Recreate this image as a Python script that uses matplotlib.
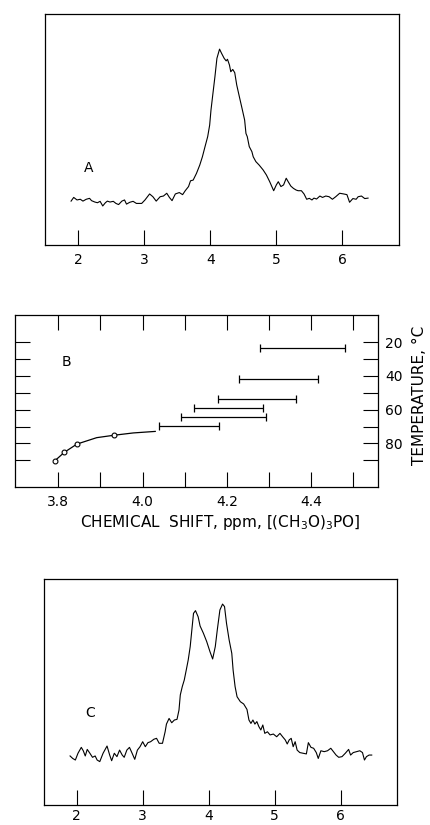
import numpy as np
import matplotlib
matplotlib.use("Agg")
import matplotlib.pyplot as plt

plt.rcParams['font.family'] = ['DejaVu Sans']

# spectrum A (ppm, arbitrary intensity)
a_ppm = [1.89, 1.93, 1.98, 2.03, 2.07, 2.12, 2.17, 2.20, 2.25, 2.29, 2.33, 2.37, 2.41, 2.44,
         2.48, 2.53, 2.57, 2.61, 2.66, 2.70, 2.73, 2.78, 2.83, 2.88, 2.96, 3.01, 3.08, 3.13,
         3.18, 3.24, 3.29, 3.34, 3.38, 3.42, 3.47, 3.53, 3.58, 3.62, 3.67, 3.70, 3.74, 3.79,
         3.84, 3.88, 3.92, 3.96, 3.99, 4.01, 4.04, 4.07, 4.10, 4.14, 4.17, 4.21, 4.24, 4.26,
         4.29, 4.31, 4.34, 4.37, 4.40, 4.44, 4.48, 4.52, 4.54, 4.56, 4.59, 4.63, 4.65, 4.69,
         4.74, 4.80, 4.85, 4.90, 4.96, 5.00, 5.03, 5.07, 5.11, 5.15, 5.18, 5.22, 5.26, 5.30,
         5.33, 5.38, 5.42, 5.46, 5.50, 5.54, 5.57, 5.61, 5.66, 5.70, 5.75, 5.80, 5.85, 5.90,
         5.96, 6.02, 6.07, 6.11, 6.16, 6.21, 6.24, 6.29, 6.34, 6.39]
a_int = [19.0, 20.6, 19.5, 19.8, 19.0, 19.8, 20.2, 19.2, 18.6, 18.3, 18.9, 16.9, 18.3, 19.0,
         18.6, 18.9, 18.0, 17.5, 19.0, 19.5, 17.7, 18.5, 18.9, 18.0, 18.0, 19.5, 22.1, 20.9,
         19.0, 20.9, 21.2, 22.4, 20.6, 19.2, 22.1, 22.7, 21.8, 23.5, 25.3, 27.8, 28.1, 31.0,
         34.6, 38.2, 42.6, 46.9, 51.9, 58.4, 65.7, 72.9, 80.8, 84.8, 83.0, 80.8, 79.7, 80.4,
         77.9, 75.0, 76.0, 74.6, 69.3, 64.2, 59.2, 54.1, 48.3, 46.9, 42.6, 40.4, 38.2, 36.1,
         34.6, 32.5, 30.3, 27.4, 23.5, 26.0, 27.4, 25.3, 26.0, 28.9, 27.4, 25.5, 24.5, 23.8,
         23.5, 23.5, 22.1, 19.8, 20.2, 19.5, 20.3, 19.9, 21.2, 20.6, 21.2, 20.9, 19.8, 20.9,
         22.4, 22.1, 21.8, 18.5, 20.1, 19.8, 20.9, 21.2, 20.1, 20.3]

# spectrum C
c_ppm = [1.90, 1.94, 1.98, 2.02, 2.07, 2.10, 2.13, 2.16, 2.20, 2.24, 2.28, 2.31, 2.35, 2.40,
         2.46, 2.50, 2.53, 2.57, 2.61, 2.65, 2.69, 2.72, 2.76, 2.80, 2.84, 2.88, 2.92, 2.96,
         3.00, 3.04, 3.08, 3.12, 3.17, 3.21, 3.25, 3.30, 3.34, 3.36, 3.40, 3.44, 3.48, 3.52,
         3.55, 3.57, 3.60, 3.63, 3.66, 3.69, 3.72, 3.74, 3.77, 3.80, 3.84, 3.87, 3.92, 3.97,
         4.02, 4.06, 4.10, 4.13, 4.17, 4.21, 4.24, 4.27, 4.31, 4.35, 4.37, 4.40, 4.43, 4.48,
         4.53, 4.58, 4.61, 4.64, 4.67, 4.70, 4.73, 4.76, 4.79, 4.82, 4.85, 4.89, 4.93, 4.98,
         5.03, 5.08, 5.12, 5.16, 5.19, 5.22, 5.25, 5.28, 5.31, 5.34, 5.38, 5.43, 5.48, 5.51,
         5.55, 5.59, 5.63, 5.66, 5.70, 5.75, 5.80, 5.85, 5.89, 5.93, 5.97, 6.02, 6.07, 6.12,
         6.15, 6.19, 6.24, 6.29, 6.33, 6.36, 6.39, 6.43, 6.47]
c_int = [21.7, 20.6, 19.9, 22.9, 25.5, 24.0, 21.7, 24.6, 22.9, 21.1, 21.7, 19.9, 19.2, 22.9,
         26.1, 22.1, 19.6, 22.9, 21.4, 24.3, 22.1, 21.1, 24.3, 25.5, 22.9, 20.2, 24.3, 25.8,
         28.0, 25.8, 27.6, 28.0, 29.1, 29.5, 27.3, 27.3, 32.4, 35.8, 38.3, 36.4, 37.6, 37.9,
         42.0, 48.7, 52.4, 55.3, 59.7, 64.2, 70.1, 76.0, 84.8, 86.0, 83.3, 79.2, 76.0, 72.3,
         67.8, 64.6, 70.1, 77.4, 86.3, 88.9, 87.8, 80.4, 73.0, 67.1, 59.7, 52.4, 47.9, 45.7,
         44.7, 42.3, 37.6, 36.1, 37.6, 35.8, 36.9, 34.7, 33.2, 35.4, 31.7, 32.4, 31.0, 31.4,
         30.2, 31.7, 30.2, 28.8, 27.0, 28.8, 29.5, 25.8, 28.0, 24.3, 23.2, 22.9, 22.6, 27.6,
         25.5, 25.1, 23.2, 20.6, 24.0, 23.6, 24.0, 25.1, 23.6, 22.1, 21.1, 21.4, 22.9, 24.6,
         22.1, 23.2, 23.6, 24.0, 23.2, 19.9, 21.4, 22.1, 22.1]

spec_ticks = [2, 3, 4, 5, 6]

# panel B: shift ranges vs temperature
bar_temp = [23.7, 42.1, 53.9, 59.2, 64.6, 69.5]
bar_lo = [4.279, 4.229, 4.178, 4.123, 4.091, 4.039]
bar_hi = [4.481, 4.416, 4.365, 4.287, 4.293, 4.182]
pt_shift = [3.792, 3.814, 3.844, 3.931]
pt_temp = [90.2, 85.3, 80.4, 75.2]
curve_shift = [3.792, 3.814, 3.844, 3.891, 3.931, 3.978, 4.030]
curve_temp = [90.2, 85.3, 80.4, 76.6, 75.2, 73.8, 72.9]
b_xticks = [3.8, 3.9, 4.0, 4.1, 4.2, 4.3, 4.4, 4.5]
b_xlabels = ['3.8', '', '4.0', '', '4.2', '', '4.4', '']
b_yticks = [20, 30, 40, 50, 60, 70, 80, 90]
b_ylabels = ['20', '', '40', '', '60', '', '80', '']

W, H = 431, 825
fig = plt.figure(figsize=(W / 100, H / 100), dpi=100)


def box(l, t, r, b):
    return [l / W, 1 - b / H, (r - l) / W, (b - t) / H]


def style(ax):
    for s in ax.spines.values():
        s.set_linewidth(0.9)
    ax.tick_params(direction='in', length=11, width=0.8, labelsize=10, pad=6)


# A
axA = fig.add_axes(box(45, 14, 399, 245))
axA.plot(a_ppm, a_int, color='black', lw=0.8)
axA.set_xlim(1.495, 6.859)
axA.set_ylim(0, 100)
axA.set_xticks(spec_ticks)
axA.set_yticks([])
style(axA)
axA.text(2.15, 33.3, 'A', fontsize=10, ha='center', va='center')

# B
axB = fig.add_axes(box(15, 315, 378, 487))
xc = [(lo + hi) / 2 for lo, hi in zip(bar_lo, bar_hi)]
xe = [(hi - lo) / 2 for lo, hi in zip(bar_lo, bar_hi)]
axB.errorbar(xc, bar_temp, xerr=xe, fmt='none', ecolor='black', elinewidth=0.9,
             capsize=3, capthick=0.9)
axB.plot(curve_shift, curve_temp, color='black', lw=0.9)
axB.plot(pt_shift, pt_temp, 'o', mfc='white', mec='black', ms=3.5, mew=0.8)
axB.set_xlim(3.697, 4.559)
axB.set_ylim(105.8, 4.0)
axB.set_xticks(b_xticks)
axB.set_xticklabels(b_xlabels)
axB.set_yticks(b_yticks)
axB.set_yticklabels(b_ylabels)
style(axB)
axB.tick_params(axis='x', top=True)
axB.tick_params(axis='y', left=True, right=True, labelleft=False, labelright=True, pad=5)
axB.text(3.82, 31.8, 'B', fontsize=10, ha='center', va='center')
fig.text(420 / W, 1 - 395 / H, 'TEMPERATURE, °C', fontsize=11, rotation=90,
         ha='center', va='center')
fig.text(220 / W, 1 - 523 / H, r'CHEMICAL  SHIFT, ppm, [(CH$_3$O)$_3$PO]',
         fontsize=11, ha='center', va='center')

# C
axC = fig.add_axes(box(44, 579, 397, 805))
axC.plot(c_ppm, c_int, color='black', lw=0.8)
axC.set_xlim(1.505, 6.853)
axC.set_ylim(0, 100)
axC.set_xticks(spec_ticks)
axC.set_yticks([])
style(axC)
axC.tick_params(axis='x', pad=3)
axC.text(2.20, 40.7, 'C', fontsize=10, ha='center', va='center')

fig.savefig('out.png', dpi=100)
